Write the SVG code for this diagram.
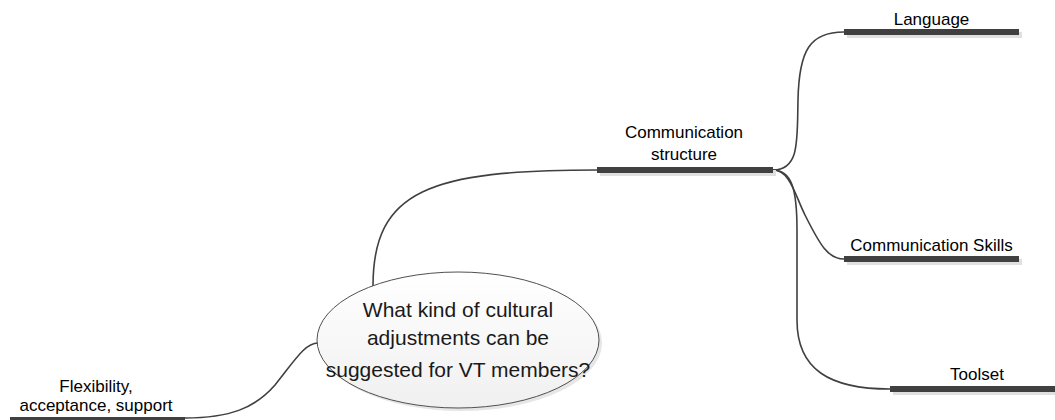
<svg xmlns="http://www.w3.org/2000/svg" width="1055" height="420" viewBox="0 0 1055 420">
<defs>
<linearGradient id="eg" x1="0" y1="0" x2="0" y2="1">
<stop offset="0" stop-color="#ffffff"/>
<stop offset="1" stop-color="#f0f0f0"/>
</linearGradient>
<style>
.lbl{font-family:"Liberation Sans",Arial,sans-serif;font-size:17px;fill:#000;text-anchor:middle}
.main{font-family:"Liberation Sans",Arial,sans-serif;font-size:21px;fill:#1a1a1a;text-anchor:middle}
.bar{fill:#404040}
.sh{fill:#e0e0e0}
.con{fill:none;stroke:#404040;stroke-width:1.6;stroke-linecap:round}
</style>
</defs>
<rect width="1055" height="420" fill="#fff"/>
<g id="connectors">
<path class="con" d="M373,286 C373,190 430,170 597,170"/>
<path class="con" d="M185,418 C230,418 255,408 275,385 C295,360 305,343 318,343"/>
<path class="con" d="M773,170 C800,170 797,140 798,100 C799,50 810,32 844,32"/>
<path class="con" d="M773,170 C790,170 795,195 805,215 C820,245 828,259 844,259"/>
<path class="con" d="M773,170 C792,170 797,190 797,230 L797,320 C797,370 830,389 890,389"/>
</g>
<g id="center">
<ellipse cx="461" cy="343" rx="141" ry="68" fill="#e6e6e6"/>
<ellipse cx="458" cy="340" rx="141" ry="68" fill="url(#eg)" stroke="#505050" stroke-width="1"/>
<text class="main" x="458" y="317">What kind of cultural</text>
<text class="main" x="458" y="345">adjustments can be</text>
<text class="main" x="458" y="377">suggested for VT members?</text>
</g>
<g id="comm-structure">
<rect class="sh" x="600" y="170" width="176" height="6"/>
<rect class="bar" x="597" y="167" width="176" height="6"/>
<text class="lbl" x="684" y="138">Communication</text>
<text class="lbl" x="684" y="160">structure</text>
</g>
<g id="language">
<rect class="sh" x="847" y="32" width="175" height="6"/>
<rect class="bar" x="844" y="29" width="175" height="6"/>
<text class="lbl" x="931.5" y="25">Language</text>
</g>
<g id="comm-skills">
<rect class="sh" x="847" y="259" width="175" height="6"/>
<rect class="bar" x="844" y="256" width="175" height="6"/>
<text class="lbl" x="931.5" y="251">Communication Skills</text>
</g>
<g id="toolset">
<rect class="sh" x="893" y="389" width="175" height="6"/>
<rect class="bar" x="890" y="386" width="175" height="6"/>
<text class="lbl" x="977" y="380">Toolset</text>
</g>
<g id="flexibility">
<rect class="sh" x="13" y="420" width="175" height="6"/>
<rect class="bar" x="10" y="417" width="175" height="6"/>
<text class="lbl" x="96" y="392">Flexibility,</text>
<text class="lbl" x="96" y="411">acceptance, support</text>
</g>
</svg>
